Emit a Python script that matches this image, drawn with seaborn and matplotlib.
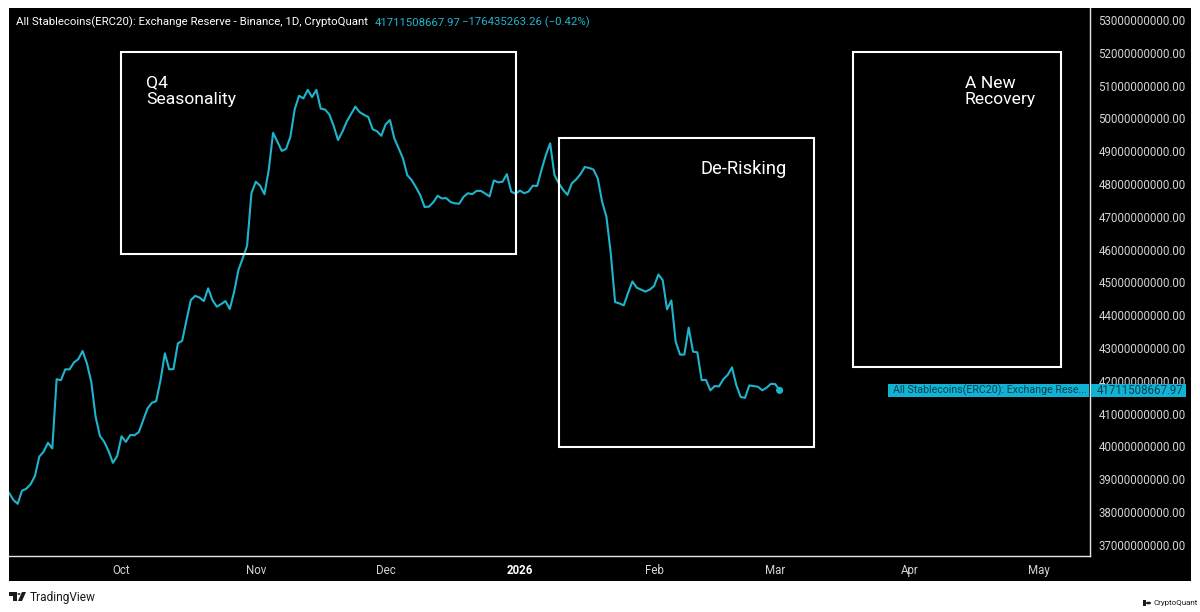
import numpy as np
import pandas as pd
import matplotlib.pyplot as plt
from matplotlib.patches import Rectangle, Polygon, Circle
import seaborn as sns

# daily reserve, billions of USD
start_date = "2025-09-05"
reserve_bn = [
    38.59, 38.37, 38.25, 38.65, 38.71, 38.85, 39.10, 39.69, 39.84, 40.11,
    39.94, 42.05, 42.02, 42.35, 42.35, 42.56, 42.66, 42.91, 42.53, 41.97,
    40.91, 40.32, 40.14, 39.86, 39.50, 39.71, 40.31, 40.14, 40.35, 40.34,
    40.44, 40.80, 41.16, 41.33, 41.38, 42.02, 42.84, 42.35, 42.36, 43.14,
    43.22, 43.85, 44.46, 44.59, 44.54, 44.43, 44.82, 44.46, 44.26, 44.34,
    44.43, 44.19, 44.71, 45.38, 45.74, 46.12, 47.72, 48.07, 47.95, 47.69,
    48.43, 49.56, 49.29, 49.01, 49.07, 49.44, 50.28, 50.69, 50.61, 50.87,
    50.65, 50.87, 50.30, 50.27, 50.12, 49.77, 49.34, 49.59, 49.90, 50.13,
    50.36, 50.19, 50.11, 50.04, 49.67, 49.61, 49.47, 49.82, 49.95, 49.39,
    49.09, 48.78, 48.27, 48.12, 47.90, 47.66, 47.30, 47.31, 47.44, 47.64,
    47.56, 47.57, 47.45, 47.41, 47.40, 47.61, 47.72, 47.69, 47.79, 47.79,
    47.71, 47.62, 48.11, 48.05, 48.07, 48.30, 47.77, 47.70, 47.80, 47.72,
    47.77, 47.95, 47.94, 48.43, 48.88, 49.24, 48.27, 48.02, 47.82, 47.67,
    48.02, 48.14, 48.30, 48.52, 48.49, 48.44, 48.17, 47.46, 47.00, 45.89,
    44.40, 44.36, 44.30, 44.68, 45.03, 44.84, 44.78, 44.72, 44.78, 44.89,
    45.24, 45.07, 44.18, 44.45, 43.19, 42.80, 42.80, 43.62, 42.89, 42.87,
    42.02, 42.03, 41.71, 41.84, 41.83, 42.05, 42.18, 42.41, 41.87, 41.51,
    41.48, 41.86, 41.84, 41.82, 41.71, 41.79, 41.91, 41.90, 41.71,
]
last_value = 41711508667.97

y_ticks = [v * 1e9 for v in range(37, 54)]
x_tick_dates = ["2025-10-01", "2025-11-01", "2025-12-01", "2026-01-01",
                "2026-02-01", "2026-03-01", "2026-04-01", "2026-05-01"]
x_tick_labels = ["Oct", "Nov", "Dec", "2026", "Feb", "Mar", "Apr", "May"]

LINE = "#1fb4cd"
TAG = "#10b3d3"
TAG_TEXT = "#0b3c50"
AXIS_TEXT = "#d4d4d4"

sns.set_theme(style="dark", rc={"axes.facecolor": "black", "figure.facecolor": "white"})
plt.rcParams["font.family"] = ["Roboto", "DejaVu Sans"]

W, H = 1200, 612


# everything that is not data is placed in reference pixels
def fx(x):
    return x / W


def fy(y):
    return 1 - y / H


def px_rect(fig, x0, y0, x1, y1, **kw):
    r = Rectangle((fx(x0), fy(y1)), (x1 - x0) / W, (y1 - y0) / H,
                  transform=fig.transFigure, **kw)
    fig.add_artist(r)
    return r


def px_text(fig, x, y, s, **kw):
    kw.setdefault("va", "center")
    kw.setdefault("ha", "left")
    return fig.text(fx(x), fy(y), s, **kw)


df = pd.DataFrame({
    "date": pd.date_range(start_date, periods=len(reserve_bn), freq="D"),
    "reserve": np.array(reserve_bn) * 1e9,
})

fig = plt.figure(figsize=(W / 100, H / 100), dpi=100)
px_rect(fig, 9, 8, 1191, 581, facecolor="black", edgecolor="none", zorder=-1)

ax = fig.add_axes([fx(9), fy(556), (1090 - 9) / W, (556 - 8) / H])
ax.patch.set_alpha(0)

sns.lineplot(data=df, x="date", y="reserve", color=LINE, linewidth=1.5, ax=ax)
sns.scatterplot(data=df.tail(1), x="date", y="reserve", color=LINE, s=26,
                edgecolor="none", ax=ax, zorder=3)

ax.set_xlim(pd.Timestamp(start_date), pd.Timestamp(start_date) + pd.Timedelta(days=249.7))
ax.set_ylim(36.66e9, 53.366e9)
ax.set_xlabel("")
ax.set_ylabel("")

ax.yaxis.tick_right()
ax.set_yticks(y_ticks)
ax.set_yticklabels([f"{v:.2f}" for v in y_ticks])
ax.tick_params(axis="y", length=0, pad=6, labelsize=8.3, labelcolor=AXIS_TEXT)

ax.set_xticks(pd.to_datetime(x_tick_dates))
ax.set_xticklabels(x_tick_labels)
ax.tick_params(axis="x", length=0, pad=6, labelsize=8.3, labelcolor=AXIS_TEXT)
for lab in ax.get_xticklabels():
    if lab.get_text() == "2026":
        lab.set_fontweight("bold")
        lab.set_color("white")

for side in ["top", "left"]:
    ax.spines[side].set_visible(False)
for side in ["right", "bottom"]:
    ax.spines[side].set_color("#e6e6e6")
    ax.spines[side].set_linewidth(1.0)

# annotation boxes
for x0, y0, x1, y1 in [(121, 52, 516, 254), (559, 138, 814, 447), (853, 52, 1061, 367)]:
    px_rect(fig, x0, y0, x1, y1, fill=False, edgecolor="white", linewidth=1.5, zorder=2)

px_text(fig, 146, 91.5, "Q4\nSeasonality", color="white", fontsize=12.6, linespacing=1.15)
px_text(fig, 700, 169, "De-Risking", color="white", fontsize=13.2)
px_text(fig, 965, 91.5, "A New\nRecovery", color="white", fontsize=12.6, linespacing=1.15)

# header legend
px_text(fig, 16, 22.5, "All Stablecoins(ERC20): Exchange Reserve - Binance, 1D, CryptoQuant",
        color="white", fontsize=8.2)
px_text(fig, 375, 22.5, "41711508667.97", color=LINE, fontsize=8.2)
px_text(fig, 462, 22.5, "\u2212176435263.26 (\u22120.42%)", color=LINE, fontsize=8.2)

# last value tags
px_rect(fig, 888, 384, 1089, 397, facecolor=TAG, edgecolor="none", zorder=2)
px_rect(fig, 1091, 384, 1186, 397, facecolor=TAG, edgecolor="none", zorder=2)
px_text(fig, 893, 390.5, "All Stablecoins(ERC20): Exchange Rese...", color=TAG_TEXT, fontsize=7.7)
px_text(fig, 1097, 390.5, f"{last_value:.2f}", color=TAG_TEXT, fontsize=8.3)

# footer marks
LOGO = "#1a1a1a"
fig.add_artist(Polygon([(fx(9), fy(592)), (fx(17), fy(592)), (fx(17), fy(601)), (fx(13), fy(601)),
                        (fx(13), fy(596)), (fx(9), fy(596))],
                       transform=fig.transFigure, facecolor=LOGO, edgecolor="none"))
fig.add_artist(Circle((fx(19), fy(594)), 1.6 / W, transform=fig.transFigure, facecolor=LOGO, edgecolor="none"))
fig.add_artist(Polygon([(fx(18), fy(601)), (fx(22), fy(592)), (fx(26), fy(592)), (fx(22), fy(601))],
                       transform=fig.transFigure, facecolor=LOGO, edgecolor="none"))
px_text(fig, 30, 597, "TradingView", color=LOGO, fontsize=8.6)

fig.add_artist(Polygon([(fx(1143), fy(600)), (fx(1146), fy(600)), (fx(1146), fy(606)), (fx(1143), fy(606))],
                       transform=fig.transFigure, facecolor=LOGO, edgecolor="none"))
fig.add_artist(Circle((fx(1148.5), fy(603)), 2.6 / W, transform=fig.transFigure, facecolor=LOGO, edgecolor="none"))
px_text(fig, 1153, 603.5, "CryptoQuant", color=LOGO, fontsize=5.8)

fig.savefig("out.png", dpi=100)
